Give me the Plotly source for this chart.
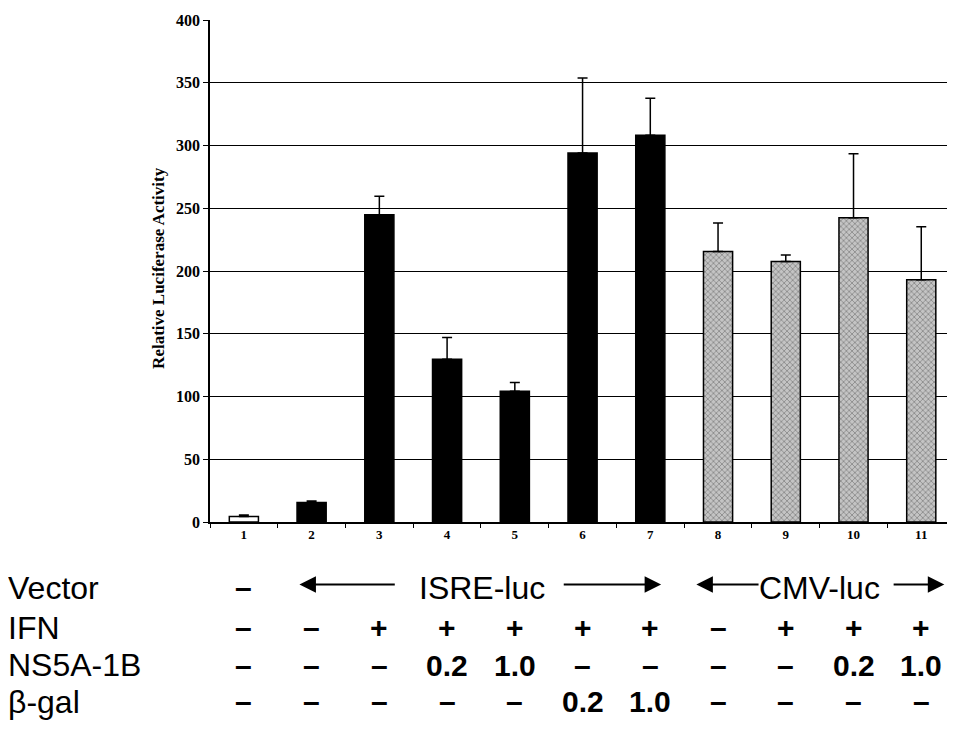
import plotly.graph_objects as go

# ---------------- data ----------------
lanes = ["1", "2", "3", "4", "5", "6", "7", "8", "9", "10", "11"]
activity = [4.3, 15.5, 244.8, 129.7, 104.2, 294.0, 308.1, 215.6, 207.6, 242.4, 193.0]
error_plus = [1.3, 1.3, 14.7, 17.3, 7.0, 59.8, 29.5, 22.6, 5.1, 51.1, 42.2]
y_ticks = [0, 50, 100, 150, 200, 250, 300, 350, 400]

row_labels = ["Vector", "IFN", "NS5A-1B", "β-gal"]
vector_row = ["–"]  # lane 1 only; lanes 2-7 ISRE-luc, 8-11 CMV-luc
ifn_row = ["–", "–", "+", "+", "+", "+", "+", "–", "+", "+", "+"]
ns5a_row = ["–", "–", "–", "0.2", "1.0", "–", "–", "–", "–", "0.2", "1.0"]
bgal_row = ["–", "–", "–", "–", "–", "0.2", "1.0", "–", "–", "–", "–"]
vector_groups = ["ISRE-luc", "CMV-luc"]

# ---------------- styles ----------------
fill_colors = ["white"] + ["black"] * 6 + ["#c4c4c4"] * 4
pattern_shapes = [""] * 7 + ["x"] * 4

fig = go.Figure()
fig.add_trace(go.Bar(
    x=lanes, y=activity, width=0.43,
    marker=dict(color=fill_colors,
                line=dict(color="black", width=1.5),
                pattern=dict(shape=pattern_shapes, fgcolor="#5a5a5a",
                             size=4, solidity=0.35)),
    error_y=dict(type="data", symmetric=False, array=error_plus,
                 arrayminus=[0] * len(lanes), color="black",
                 thickness=1.5, width=5),
    showlegend=False,
))

serif = "Liberation Serif"
sans = "Liberation Sans"

fig.update_layout(
    width=939, height=714,
    margin=dict(l=202, r=0, t=12, b=200),
    plot_bgcolor="white", paper_bgcolor="white",
    xaxis=dict(type="category", range=[-0.5, 10.38], autorange=False,
               showline=True, linecolor="black", linewidth=1.5,
               ticks="outside", tickson="boundaries", ticklen=4, tickcolor="black",
               tickfont=dict(family=serif, size=13, color="black", weight="bold"),
               showgrid=False),
    yaxis=dict(range=[0, 400], tickvals=y_ticks, showline=True, linecolor="black",
               linewidth=1.5, ticks="outside", ticklen=5, tickcolor="black",
               tickfont=dict(family=serif, size=16, color="black", weight="bold"),
               showgrid=True, gridcolor="#b8b8b8", griddash="dot", gridwidth=1,
               zeroline=False),
    yaxis2=dict(overlaying="y", range=[0, 400], tickvals=y_ticks[1:-1],
                showticklabels=False, ticks="", showline=False,
                showgrid=True, gridcolor="black", gridwidth=1.2, zeroline=False),
)
fig.add_trace(go.Scatter(x=[lanes[0]], y=[None], yaxis="y2", mode="lines",
                         showlegend=False, hoverinfo="skip"))

annotations = []
annotations.append(dict(text="Relative Luciferase Activity", xref="paper", yref="paper",
                        x=-0.07, y=0.507, xanchor="center", yanchor="middle",
                        textangle=-90, showarrow=False,
                        font=dict(family=serif, size=17, color="black", weight="bold")))

row_y = [-0.1305, -0.2105, -0.2855, -0.3585]
for lbl, yy in zip(row_labels, row_y):
    annotations.append(dict(text=lbl, xref="paper", yref="paper", x=-0.2765, y=yy,
                            xanchor="left", yanchor="middle", showarrow=False,
                            font=dict(family=sans, size=32, color="black")))

sym_font = dict(family=sans, size=30, color="black", weight="bold")
for row, yy in zip([vector_row, ifn_row, ns5a_row, bgal_row], row_y):
    for i, s in enumerate(row):
        annotations.append(dict(text=s, xref="x", yref="paper", x=i, y=yy,
                                xanchor="center", yanchor="middle", showarrow=False,
                                font=sym_font))

annotations.append(dict(text=vector_groups[0], xref="x", yref="paper", x=3.52, y=row_y[0],
                        xanchor="center", yanchor="middle", showarrow=False,
                        font=dict(family=sans, size=32, color="black")))
annotations.append(dict(text=vector_groups[1], xref="x", yref="paper", x=8.5, y=row_y[0],
                        xanchor="center", yanchor="middle", showarrow=False,
                        font=dict(family=sans, size=32, color="black")))
arrow_spans = [(0.82, 2.25), (6.16, 4.70), (6.68, 7.62), (10.34, 9.57)]
for head, tail in arrow_spans:
    annotations.append(dict(text="", xref="x", yref="paper", x=head, y=row_y[0] + 0.006,
                            axref="x", ayref="pixel", ax=tail, ay=0,
                            showarrow=True, arrowhead=2, arrowsize=1.5, arrowwidth=2.2,
                            arrowcolor="black"))

fig.update_layout(annotations=annotations)
fig.write_html("out.html")
